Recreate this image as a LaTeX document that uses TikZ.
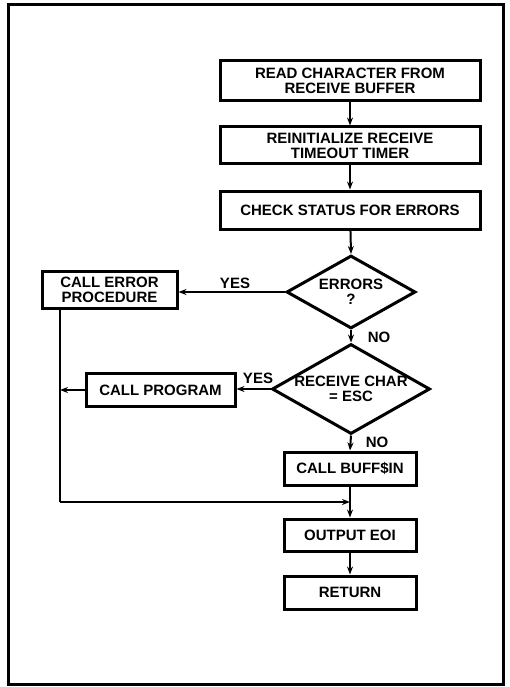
\documentclass[tikz,border=0pt]{standalone}
\usepackage{fontspec}
\setsansfont{Liberation Sans}
\usetikzlibrary{positioning, arrows.meta, calc, shapes.geometric}

\begin{document}
\begin{tikzpicture}[
  x=1pt, y=-1pt,
  every node/.style={font=\sffamily\bfseries\fontsize{15}{15}\selectfont, align=center},
  stepbox/.style={rectangle, draw, line width=3pt, inner sep=0pt,
                  minimum width=260pt},
  smallbox/.style={rectangle, draw, line width=3pt, inner sep=0pt,
                   minimum width=132pt, minimum height=33pt},
  decide/.style={diamond, draw, line width=3pt, inner sep=-4pt, aspect=1.75},
  tag/.style={inner sep=0pt},
  arrow/.style={-{Stealth[length=8pt,width=6pt]}, line width=2pt},
  flow/.style={line width=2pt}
]
\useasboundingbox (0,0) rectangle (510,687);
\draw[line width=3pt] (8,5) rectangle (503,684);

\node[stepbox, minimum height=40pt] (readchar) at (350,81) {READ CHARACTER FROM \\ RECEIVE BUFFER};
\node[stepbox, minimum height=37pt] (reinit) at (350,145.5) {REINITIALIZE RECEIVE \\ TIMEOUT TIMER};
\node[stepbox, minimum height=38pt] (status) at (350,210) {CHECK STATUS FOR ERRORS};

\node[decide, minimum width=129pt, minimum height=73pt] (errors) at (351,292) {ERRORS \\ ?};
\node[rectangle, draw, line width=3pt, inner sep=0pt, minimum width=135pt, minimum height=37pt] (errproc) at (109.5,289.5) {CALL ERROR \\ PROCEDURE};

\node[decide, minimum width=158pt, minimum height=90pt] (isesc) at (351,389) {RECEIVE CHAR \\ = ESC};
\node[rectangle, draw, line width=3pt, inner sep=0pt, minimum width=149pt, minimum height=33pt] (callprog) at (160.5,390) {CALL PROGRAM};

\node[smallbox] (buffin) at (350,468.5) {CALL BUFF\$IN};
\node[smallbox, minimum height=32pt] (eoi) at (350,535) {OUTPUT EOI};
\node[smallbox] (return) at (350,592.5) {RETURN};

\node[tag] (yes1) at (235,283) {YES};
\node[tag] (no1) at (379,337) {NO};
\node[tag] (yes2) at (258,378) {YES};
\node[tag] (no2) at (377,442) {NO};

\coordinate (tap) at (60,390);
\coordinate (corner) at (60,502);
\coordinate (merge) at (350,502);

\draw[arrow] (readchar) -- (reinit);
\draw[arrow] (reinit) -- (status);
\draw[arrow] (status) -- (errors.north);
\draw[arrow] (errors.west) -- (errproc.east |- errors.west);
\draw[arrow] (errors.south) -- (isesc.north);
\draw[arrow] (isesc.west) -- (callprog.east |- isesc.west);
\draw[arrow] (callprog.west) -- (tap);
\draw[arrow] (isesc.south) -- (buffin.north);
\draw[flow] (errproc.south -| corner) -- (corner);
\draw[arrow] (corner) -- (merge);
\draw[arrow] (buffin) -- (eoi);
\draw[arrow] (eoi) -- (return);
\end{tikzpicture}
\end{document}
